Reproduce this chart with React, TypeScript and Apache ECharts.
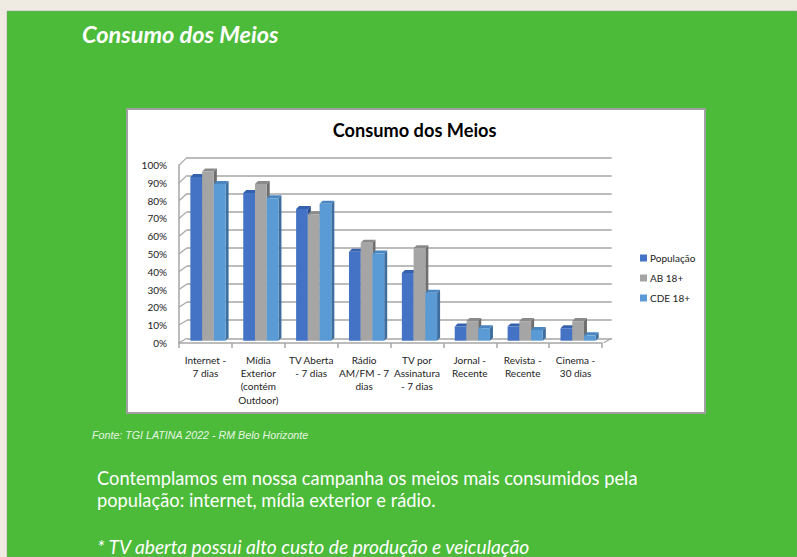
import React, { useEffect, useRef } from "react";
import * as echarts from "echarts";

const categories = [
  "Internet -\n7 dias",
  "Mídia\nExterior\n(contém\nOutdoor)",
  "TV Aberta\n- 7 dias",
  "Rádio\nAM/FM - 7\ndias",
  "TV por\nAssinatura\n- 7 dias",
  "Jornal -\nRecente",
  "Revista -\nRecente",
  "Cinema -\n30 dias",
];
const seriesNames = ["População", "AB 18+", "CDE 18+"];
const populacao = [92, 83, 74, 50, 38, 8, 8, 7];
const ab18 = [95, 88, 71, 55, 52, 11, 11, 11];
const cde18 = [88, 80, 77, 49, 27, 7, 6, 3];
const yTicks = [0, 10, 20, 30, 40, 50, 60, 70, 80, 90, 100];

const palette = [
  { front: "#4472C4", top: "#3560AC", side: "#2E4F8C" },
  { front: "#A5A5A5", top: "#8A8A8A", side: "#6E6E6E" },
  { front: "#5B9BD5", top: "#4A86C0", side: "#3D6E9E" },
];

const FONT = "Lato, 'Noto Sans', sans-serif";

function barSeries(name: string, data: number[], idx: number) {
  const c = palette[idx];
  return {
    type: "custom",
    name,
    xAxisIndex: 0,
    yAxisIndex: 0,
    itemStyle: { color: c.front },
    encode: { x: 0, y: 1 },
    data: data.map((v, i) => [i, v]),
    renderItem: (params: any, api: any) => {
      const i = api.value(0);
      const v = api.value(1);
      const band = api.size([1, 0])[0];
      const p0 = api.coord([i, 0]);
      const p1 = api.coord([i, v]);
      const w = band * 0.222;
      const x0 = p0[0] - band / 2 + band * 0.215 + idx * w;
      const lift = 2.3;
      const dx = 3;
      const dy = -3;
      const yb = p0[1] - lift;
      const yt = p1[1] - lift;
      return {
        type: "group",
        children: [
          {
            type: "polygon",
            shape: { points: [[x0 + w, yt], [x0 + w + dx, yt + dy], [x0 + w + dx, yb + dy], [x0 + w, yb]] },
            style: { fill: c.side },
          },
          {
            type: "polygon",
            shape: { points: [[x0, yt], [x0 + w, yt], [x0 + w + dx, yt + dy], [x0 + dx, yt + dy]] },
            style: { fill: c.top },
          },
          {
            type: "rect",
            shape: { x: x0, y: yt, width: w, height: yb - yt },
            style: { fill: c.front },
          },
        ],
      };
    },
  };
}

export default function App() {
  const ref = useRef<HTMLDivElement>(null);
  useEffect(() => {
    if (!ref.current) return;
    const chart = echarts.init(ref.current, null, { renderer: "svg" });
    const gridColor = "#A6A6A6";
    const option: any = {
      animation: false,
      backgroundColor: "#EFEBE2",
      graphic: [
        { type: "rect", z: -10, shape: { x: 7, y: 11, width: 790, height: 546 }, style: { fill: "#4CBB3A", stroke: "#8a9a88", lineWidth: 0.5 } },
        {
          type: "rect",
          z: -10,
          shape: { x: 127, y: 109, width: 578, height: 304 },
          style: { fill: "#FFFFFF", stroke: "#A0A0A0", lineWidth: 2 },
        },
        {
          type: "text",
          x: 82,
          y: 34,
          style: { text: "Consumo dos Meios", fill: "#FFFFFF", font: "italic bold 23.5px " + FONT, verticalAlign: "middle" },
        },
        {
          type: "text",
          x: 414.6,
          y: 130,
          style: { text: "Consumo dos Meios", fill: "#000000", font: "bold 18.2px " + FONT, align: "center", verticalAlign: "middle" },
        },
        {
          type: "text",
          x: 92,
          y: 435,
          style: { text: "Fonte: TGI LATINA 2022 - RM Belo Horizonte", fill: "#E6F4E2", font: "italic 10.7px 'Liberation Sans', Arial, sans-serif", verticalAlign: "middle" },
        },
        {
          type: "text",
          x: 97,
          y: 478,
          style: { text: "Contemplamos em nossa campanha os meios mais consumidos pela", fill: "#FFFFFF", font: "18.3px " + FONT, verticalAlign: "middle" },
        },
        {
          type: "text",
          x: 97,
          y: 500,
          style: { text: "população: internet, mídia exterior e rádio.", fill: "#FFFFFF", font: "18.3px " + FONT, verticalAlign: "middle" },
        },
        {
          type: "text",
          x: 97,
          y: 546,
          style: { text: "* TV aberta possui alto custo de produção e veiculação", fill: "#FFFFFF", font: "italic 19.2px " + FONT, verticalAlign: "middle" },
        },
      ],
      legend: {
        data: seriesNames,
        orient: "vertical",
        left: 640,
        top: 252,
        padding: 0,
        itemWidth: 7,
        itemHeight: 7,
        itemGap: 8,
        icon: "rect",
        textStyle: { fontSize: 10, color: "#222", fontFamily: FONT, lineHeight: 12, padding: [0, 0, 0, -2] },
      },
      grid: [
        { left: 179, top: 165, width: 423, height: 178 },
        { left: 187, top: 157.3, width: 424.7, height: 181 },
      ],
      xAxis: [
        {
          gridIndex: 0,
          type: "category",
          data: categories,
          axisLine: { lineStyle: { color: gridColor, width: 1.5 } },
          axisTick: { show: true, length: 5, lineStyle: { color: gridColor, width: 1.5 } },
          axisLabel: { interval: 0, color: "#222", fontSize: 10, fontFamily: FONT, lineHeight: 13.3, margin: 10 },
        },
        { gridIndex: 1, type: "category", data: categories, show: false },
      ],
      yAxis: [
        {
          gridIndex: 0,
          type: "value",
          min: 0,
          max: 100,
          interval: 10,
          axisLine: { show: true, lineStyle: { color: gridColor, width: 1.5 } },
          axisTick: { show: false },
          splitLine: { show: false },
          axisLabel: { formatter: "{value}%", color: "#222", fontSize: 10, fontFamily: FONT, margin: 12 },
        },
        {
          gridIndex: 1,
          type: "value",
          min: 0,
          max: 100,
          interval: 10,
          axisLine: { show: false },
          axisTick: { show: false },
          axisLabel: { show: false },
          splitLine: { show: true, lineStyle: { color: gridColor, width: 1.5 } },
        },
      ],
      series: [
        {
          type: "custom",
          xAxisIndex: 1,
          yAxisIndex: 1,
          silent: true,
          data: yTicks.map((v) => [0, v]),
          renderItem: (params: any, api: any) => {
            const v = api.value(1);
            const band = api.size([1, 0])[0];
            const b = api.coord([0, v]);
            const bx = b[0] - band / 2;
            const fdx = -8;
            const fdy = 4.4 + 0.036 * v;
            const children: any[] = [
              { type: "line", shape: { x1: bx, y1: b[1], x2: bx + fdx, y2: b[1] + fdy }, style: { stroke: gridColor, lineWidth: 1.2 } },
            ];
            if (v === 0) {
              const r = api.coord([categories.length - 1, 0]);
              const rx = r[0] + band / 2;
              children.push({ type: "line", shape: { x1: rx, y1: r[1], x2: rx + fdx, y2: r[1] + fdy }, style: { stroke: gridColor, lineWidth: 1.2 } });
            }
            return { type: "group", children };
          },
        },
        barSeries(seriesNames[0], populacao, 0),
        barSeries(seriesNames[1], ab18, 1),
        barSeries(seriesNames[2], cde18, 2),
      ],
    };
    chart.setOption(option);
    return () => chart.dispose();
  }, []);
  return <div ref={ref} style={{ position: "fixed", left: 0, top: 0, width: 797, height: 557 }} />;
}
